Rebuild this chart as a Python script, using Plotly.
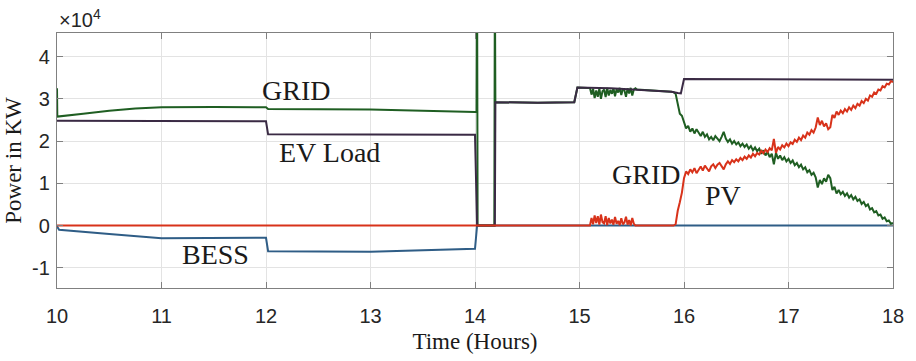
import numpy as np
import plotly.graph_objects as go

# ---- data (power in units of 1e4 kW, time in hours) ----
ev_t = [10.0, 12.0, 12.02, 14.0, 14.02, 14.19, 14.195, 14.6, 14.95, 14.98, 15.3, 15.55, 15.88, 15.94, 15.97, 16.0, 17.0, 18.0]
ev_v = [2.48, 2.47, 2.16, 2.15, 0.0, 0.0, 2.92, 2.91, 2.92, 3.27, 3.25, 3.22, 3.17, 3.14, 3.13, 3.47, 3.46, 3.45]

bess_t = [10.0, 10.02, 10.5, 11.0, 12.0, 12.02, 13.0, 14.0, 14.02, 18.0]
bess_v = [-0.02, -0.10, -0.20, -0.30, -0.29, -0.61, -0.62, -0.55, 0.0, 0.0]

grid_t_a = [10.0, 10.003, 10.25, 10.5, 10.75, 11.0, 11.5, 12.0, 12.02, 13.0, 14.0, 14.015, 14.02, 14.025,
            14.185, 14.19, 14.195, 14.6, 14.95, 14.98, 15.08]
grid_v_a = [3.25, 2.58, 2.65, 2.72, 2.77, 2.80, 2.81, 2.80, 2.76, 2.75, 2.69, 2.69, 6.0, 0.0,
            0.0, 6.0, 2.92, 2.91, 2.92, 3.27, 3.26]

noise1_t = np.round(15.10 + 0.015 * np.arange(30), 3)
grid_n1 = [3.26, 3.10, 3.24, 3.02, 3.20, 3.05, 3.25, 3.00, 3.18, 3.22, 3.04, 3.26, 3.08, 3.21, 3.12,
           3.25, 3.06, 3.23, 3.15, 3.26, 3.09, 3.24, 3.20, 3.05, 3.25, 3.13, 3.26, 3.08, 3.22, 3.25]
pv_n1 = [0.00, 0.18, 0.03, 0.24, 0.06, 0.22, 0.02, 0.26, 0.08, 0.05, 0.22, 0.01, 0.18, 0.05, 0.14,
         0.02, 0.20, 0.04, 0.11, 0.01, 0.17, 0.03, 0.07, 0.21, 0.02, 0.13, 0.00, 0.18, 0.04, 0.00]

grid_t_b = [15.55, 15.88]
grid_v_b = [3.22, 3.17]

noise2_t = np.round(15.90 + 0.02 * np.arange(106), 2)
grid_n2 = [3.16, 3.12, 2.85, 2.65, 2.60, 2.45, 2.30, 2.36, 2.22, 2.30, 2.18, 2.28, 2.20, 2.12, 2.22,
           2.10, 2.16, 2.04, 2.10, 2.02, 2.12, 2.06, 2.00, 2.10, 2.22, 2.06, 1.98, 2.04, 1.94, 2.00,
           1.92, 1.97, 1.88, 1.94, 1.86, 1.92, 1.82, 1.88, 1.78, 1.85, 1.76, 1.82, 1.70, 1.78, 1.66,
           1.74, 1.62, 1.70, 1.45, 1.72, 1.58, 1.66, 1.55, 1.62, 1.52, 1.58, 1.48, 1.54, 1.43, 1.48,
           1.38, 1.44, 1.33, 1.38, 1.26, 1.31, 1.20, 1.25, 1.14, 0.90, 1.08, 0.98, 1.12, 1.04, 1.20,
           1.12, 0.84, 0.92, 0.76, 0.84, 0.74, 0.80, 0.70, 0.76, 0.66, 0.72, 0.62, 0.68, 0.58, 0.62,
           0.51, 0.56, 0.46, 0.50, 0.38, 0.41, 0.31, 0.34, 0.24, 0.26, 0.16, 0.19, 0.10, 0.12, 0.04,
           0.06]
pv_n2 = [0.00, 0.03, 0.35, 0.55, 0.78, 1.12, 1.28, 1.22, 1.33, 1.26, 1.36, 1.24, 1.32, 1.40, 1.30,
         1.42, 1.35, 1.28, 1.40, 1.45, 1.36, 1.44, 1.48, 1.40, 1.33, 1.45, 1.52, 1.46, 1.55, 1.50,
         1.57, 1.52, 1.60, 1.55, 1.63, 1.58, 1.66, 1.61, 1.70, 1.64, 1.72, 1.68, 1.77, 1.71, 1.80,
         1.74, 1.83, 1.78, 2.05, 1.72, 1.86, 1.80, 1.90, 1.85, 1.94, 1.88, 1.97, 1.93, 2.03, 1.98,
         2.08, 2.02, 2.13, 2.08, 2.20, 2.15, 2.26, 2.20, 2.32, 2.56, 2.38, 2.48, 2.35, 2.42, 2.28,
         2.33, 2.62, 2.55, 2.70, 2.62, 2.72, 2.66, 2.76, 2.70, 2.80, 2.74, 2.84, 2.78, 2.88, 2.84,
         2.95, 2.90, 3.00, 2.96, 3.08, 3.05, 3.15, 3.12, 3.22, 3.20, 3.30, 3.27, 3.36, 3.34, 3.42,
         3.40]

pv_t_a = [10.0, 15.09]
pv_v_a = [0.0, 0.0]
pv_t_b = [15.55, 15.89]
pv_v_b = [0.0, 0.0]

y_ticks = [-1, 0, 1, 2, 3, 4]
x_ticks = [10, 11, 12, 13, 14, 15, 16, 17, 18]

labels = [("GRID", 12.29, 3.21), ("EV Load", 12.61, 1.72), ("BESS", 11.52, -0.69),
          ("GRID", 15.64, 1.20), ("PV", 16.37, 0.70)]

# ---- assemble series ----
grid_t = list(grid_t_a) + list(noise1_t) + grid_t_b + list(noise2_t)
grid_v = grid_v_a + grid_n1 + grid_v_b + grid_n2
pv_t = pv_t_a + list(noise1_t) + pv_t_b + list(noise2_t)
pv_v = pv_v_a + pv_n1 + pv_v_b + pv_n2

fig = go.Figure()
fig.add_trace(go.Scatter(x=bess_t, y=bess_v, mode="lines", line=dict(color="#2f5d86", width=2), name="BESS"))
fig.add_trace(go.Scatter(x=grid_t, y=grid_v, mode="lines", line=dict(color="#1f5e22", width=2), name="GRID"))
fig.add_trace(go.Scatter(x=ev_t, y=ev_v, mode="lines", line=dict(color="#3a2a44", width=2), name="EV Load"))
fig.add_trace(go.Scatter(x=pv_t, y=pv_v, mode="lines", line=dict(color="#d8321a", width=2), name="PV"))

for txt, x, y in labels:
    fig.add_annotation(x=x, y=y, xref="x", yref="y", text=txt, showarrow=False,
                       font=dict(family="Liberation Serif", size=28, color="#1a1a1a"))

fig.add_annotation(x=0, y=1, xref="paper", yref="paper", xanchor="left", yanchor="bottom",
                   text="×10<sup>4</sup>", showarrow=False, xshift=0, yshift=0,
                   font=dict(family="Liberation Sans", size=20, color="#262626"))

axis_common = dict(showline=True, linecolor="#808080", linewidth=1.3, mirror="ticks",
                   ticks="inside", ticklen=6, tickcolor="#808080",
                   showgrid=True, gridcolor="#e3e3e3", gridwidth=1, zeroline=False,
                   tickfont=dict(family="Liberation Sans", size=20, color="#262626"))

fig.update_xaxes(range=[10, 18], tickvals=x_ticks, ticktext=[str(v) for v in x_ticks],
                 ticklabelstandoff=10,
                 title=dict(text="Time (Hours)", font=dict(family="Liberation Serif", size=23, color="#1a1a1a"),
                            standoff=6), **axis_common)
fig.update_yaxes(range=[-1.48, 4.56], tickvals=y_ticks, ticktext=[str(v) for v in y_ticks],
                 ticklabelstandoff=2,
                 title=dict(text="Power in KW", font=dict(family="Liberation Serif", size=23, color="#1a1a1a"),
                            standoff=4), **axis_common)

fig.update_layout(width=916, height=361, margin=dict(l=57, r=15, t=33, b=73),
                  paper_bgcolor="white", plot_bgcolor="white", showlegend=False)

fig.write_html("out.html")
